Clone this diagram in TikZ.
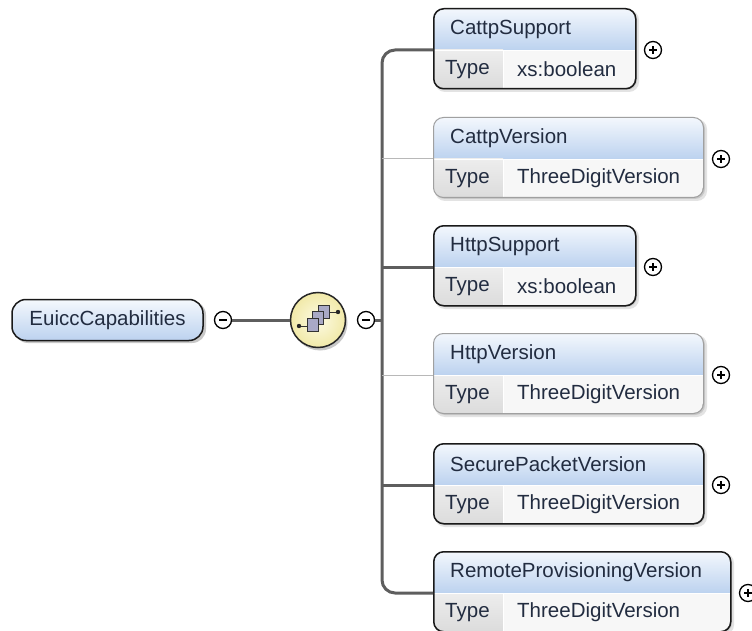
\documentclass[tikz,border=0pt]{standalone}
\usepackage{fontspec}
\setmainfont{Liberation Sans}
\usetikzlibrary{calc}
\definecolor{hdtop}{HTML}{F4F8FD}
\definecolor{hdbot}{HTML}{BCD2EF}
\definecolor{tytop}{HTML}{EDEDED}
\definecolor{tybot}{HTML}{DCDCDC}
\definecolor{valc}{HTML}{F7F7F7}
\definecolor{txtc}{HTML}{222C40}
\definecolor{optc}{HTML}{A0A0A0}
\definecolor{linec}{HTML}{5E5E5E}
\definecolor{thinc}{HTML}{B8B8B8}
\definecolor{shadowc}{HTML}{C8C8C8}
\definecolor{seqin}{HTML}{FDFBE4}
\definecolor{seqout}{HTML}{F1E9A8}
\definecolor{sqc}{HTML}{A9A9C6}
\newcommand{\xelem}[6]{%
\begin{scope}[shift={(433,#2)}]
 \fill[shadowc, opacity=0.5, rounded corners=10pt] (2,2) rectangle ({#3+4},84);
 \fill[shadowc, rounded corners=10pt] (2,2) rectangle ({#3+2},82);
 \begin{scope}
  \clip[rounded corners=10pt] (0,0) rectangle (#3,80);
  \shade[top color=hdtop,bottom color=hdbot] (0,0) rectangle (#3,42);
  \shade[top color=tytop,bottom color=tybot] (0,42) rectangle (70,80);
  \fill[valc] (70,42) rectangle (#3,80);
  \draw[white, line width=1pt] (0,42.5) -- (#3,42.5);
  \draw[white, line width=1pt] (70.5,42) -- (70.5,80);
 \end{scope}
 \node[#6box, minimum width=#3pt, minimum height=80pt, anchor=north west] (#1) at (0,0) {};
 \node[ttl] (#1-t) at (17,21) {#4};
 \node[ttl] (#1-k) at (12,61.5) {Type};
 \node[ttl] (#1-v) at (84,61.5) {#5};
 \coordinate (#1-s) at (0,42);
 \node[plusc] (#1-p) at ({#3+18},42) {};
\end{scope}}
\begin{document}
\begin{tikzpicture}[x=1pt,y=-1pt,
  reqbox/.style={draw=black!90, line width=1.5pt, rounded corners=10pt, inner sep=0pt},
  optbox/.style={draw=optc, line width=1pt, rounded corners=10pt, inner sep=0pt},
  ttl/.style={anchor=west, inner sep=0pt, text=txtc, font=\fontsize{20.5}{24}\selectfont},
  pmbase/.style={circle, draw=black, line width=1.3pt, minimum size=17pt, inner sep=0pt, fill=white},
  plusc/.style={pmbase, path picture={
     \draw[line width=1.3pt] ([xshift=-4pt]path picture bounding box.center) -- ([xshift=4pt]path picture bounding box.center);
     \draw[line width=1.3pt] ([yshift=-4pt]path picture bounding box.center) -- ([yshift=4pt]path picture bounding box.center);}},
  minusc/.style={pmbase, path picture={
     \draw[line width=1.3pt] ([xshift=-4pt]path picture bounding box.center) -- ([xshift=4pt]path picture bounding box.center);}},
  trunkline/.style={draw=linec, line width=3pt},
  reqline/.style={draw=linec, line width=3pt},
  optline/.style={draw=thinc, line width=1pt},
  sqbox/.style={draw=black!80, line width=0.9pt, fill=sqc}
]
\useasboundingbox (0,0) rectangle (752,631);
\fill[white] (0,0) rectangle (752,631);

% root element
\fill[shadowc, rounded corners=14pt] (14,301) rectangle (206,343);
\node[draw=black!90, line width=1.5pt, rounded corners=14pt, top color=hdtop, bottom color=hdbot,
      minimum width=191pt, minimum height=41pt, inner sep=0pt, text=txtc,
      font=\fontsize{20.5}{24}\selectfont] (root) at (107.5,320) {EuiccCapabilities};
\node[minusc] (rm) at (223,320) {};

% sequence compositor
\fill[shadowc] (320,323) circle (27.5);
\node[circle, draw=black!85, line width=1.5pt, inner color=seqin, outer color=seqout,
      minimum size=55pt, inner sep=0pt] (seq) at (318,320) {};
\node[minusc] (sm) at (366,320) {};
\draw[reqline] (rm) -- (seq);

% sequence icon
\draw[black!80, line width=1pt] (299,326) -- (307,326);
\draw[black!80, line width=1pt] (329,312) -- (338,312);
\fill[black!85] (299,326) circle (2.2);
\fill[black!85] (338,312) circle (2.2);
\draw[sqbox] (318,305) rectangle (329,318);
\draw[sqbox] (312.5,311.5) rectangle (323.5,324.5);
\draw[sqbox] (307,318) rectangle (318,331);

% children
\xelem{cs}{8}{202}{CattpSupport}{xs:boolean}{req}
\xelem{cv}{117}{270}{CattpVersion}{ThreeDigitVersion}{opt}
\xelem{hs}{225}{202}{HttpSupport}{xs:boolean}{req}
\xelem{hv}{333}{270}{HttpVersion}{ThreeDigitVersion}{opt}
\xelem{sp}{443}{270}{SecurePacketVersion}{ThreeDigitVersion}{req}
\xelem{rp}{551}{297}{RemoteProvisioningVersion}{ThreeDigitVersion}{req}

% connectors
\coordinate (trunk) at (382,320);
\draw[trunkline, rounded corners=13pt] (cs-s) -| (trunk |- rp-s) -- (rp-s);
\draw[reqline] (trunk |- hs-s) -- (hs-s);
\draw[reqline] (trunk |- sp-s) -- (sp-s);
\draw[optline] (trunk |- cv-s) -- (cv-s);
\draw[optline] (trunk |- hv-s) -- (hv-s);
\draw[reqline] (sm) -- (trunk);
\end{tikzpicture}
\end{document}
